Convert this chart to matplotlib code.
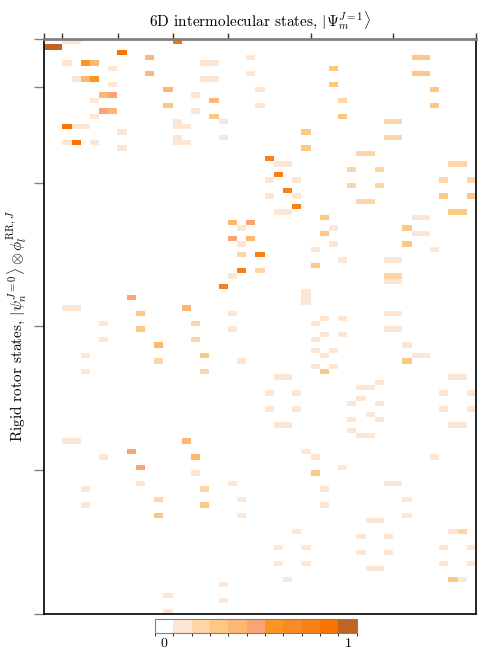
import numpy as np
import matplotlib
matplotlib.use("Agg")
import matplotlib.pyplot as plt
from matplotlib.colors import ListedColormap, BoundaryNorm
from matplotlib.cm import ScalarMappable

plt.rcParams['font.family'] = 'cmr10'
plt.rcParams['mathtext.fontset'] = 'cm'
plt.rcParams['axes.formatter.use_mathtext'] = True

# grid size and block boundaries
n_rows = 108
n_cols = 47
col_breaks = [0, 2, 8, 14, 20, 29, 38, 47]
row_breaks = [0, 9, 27, 54, 81, 108]

# nonzero overlaps, level in tenths (row, column, level)
cell_rows = [0, 0, 0, 1, 1, 2, 3, 3, 3, 3,
             4, 4, 4, 4, 4, 5, 5, 6, 6, 6, 6,
             7, 7, 7, 7, 7, 8, 8, 9, 9, 9,
             10, 10, 10, 11, 11, 11, 12, 12, 12, 13, 13, 13,
             14, 14, 14, 15, 15, 15, 15, 16, 16, 16, 16, 16,
             17, 17, 18, 18, 18, 18, 19, 19, 19, 19, 19, 20, 20,
             21, 21, 22, 23, 23, 23, 23, 24, 24, 25, 26, 26, 26, 26,
             27, 27, 28, 29, 29, 29, 29, 30, 30, 31, 32, 32, 32, 32,
             33, 33, 33, 34, 34, 35, 35, 35, 36, 36, 36, 37, 37,
             38, 38, 38, 39, 39, 40, 40, 41, 41, 41, 42, 43, 43,
             44, 44, 44, 45, 45, 46, 47, 48, 48, 49,
             50, 50, 50, 51, 51, 51, 51, 52, 52, 53, 53, 53,
             54, 54, 54, 54, 55, 55, 56, 56, 56, 57, 57, 58, 58,
             59, 59, 59, 59, 59, 60, 60, 60, 61, 61, 62, 62, 62,
             63, 63, 63, 63, 64, 65, 65, 66, 66, 66, 66, 67, 68, 68,
             69, 69, 69, 69, 70, 71, 71, 72, 72, 72, 72, 73, 74, 74,
             75, 75, 75, 77, 77, 78, 78, 78, 78, 80, 80, 81, 81,
             83, 83, 83, 83, 84, 84, 84, 86, 86, 86, 87, 87, 87,
             89, 89, 89, 90, 90, 92, 92, 92, 93, 93,
             95, 95, 95, 95, 96, 96, 98, 98, 98, 98, 99, 99,
             101, 101, 101, 102, 104, 105, 107]
cell_cols = [2, 3, 14, 0, 1, 8, 11, 22, 40, 41,
             2, 4, 5, 17, 18, 7, 31, 11, 22, 40, 41,
             3, 4, 5, 17, 18, 7, 31, 13, 23, 42,
             6, 7, 16, 5, 18, 32, 13, 23, 42, 6, 7, 16,
             5, 18, 32, 14, 19, 37, 38, 2, 3, 4, 14, 15,
             8, 28, 14, 19, 37, 38, 2, 3, 5, 14, 15, 8, 28,
             34, 35, 24, 25, 26, 44, 45, 33, 36, 25, 24, 27, 43, 46,
             33, 36, 26, 24, 27, 43, 46, 34, 35, 27, 25, 26, 44, 45,
             30, 40, 41, 20, 22, 21, 31, 39, 30, 40, 41, 20, 22,
             21, 31, 39, 29, 42, 21, 23, 32, 37, 38, 29, 21, 23,
             20, 37, 38, 37, 38, 19, 28, 9, 28, 28,
             2, 3, 15, 10, 20, 37, 38, 30, 32, 6, 16, 29,
             10, 20, 37, 38, 30, 32, 6, 16, 29, 12, 39, 29, 31,
             4, 17, 30, 40, 41, 12, 21, 39, 29, 31, 4, 17, 30,
             25, 26, 44, 45, 36, 34, 35, 24, 27, 43, 46, 34, 33, 36,
             24, 27, 43, 46, 35, 33, 36, 25, 26, 44, 45, 33, 34, 35,
             2, 3, 15, 9, 28, 6, 16, 29, 42, 10, 32, 16, 29,
             10, 20, 37, 38, 4, 17, 30, 12, 21, 39, 4, 17, 30,
             12, 21, 39, 35, 36, 27, 44, 45, 34, 37,
             25, 28, 43, 46, 34, 37, 25, 28, 43, 46, 35, 36,
             26, 44, 45, 19, 13, 19, 13]
cell_levels = [1, 1, 9, 10, 10, 9, 4, 1, 3, 3,
               1, 6, 4, 1, 1, 1, 3, 4, 1, 3, 3,
               1, 4, 6, 1, 1, 1, 3, 4, 1, 3,
               4, 5, 1, 1, 4, 2, 3, 1, 3, 5, 4, 1,
               1, 3, 3, 1, 1, 2, 2, 9, 1, 1, 1, 1,
               1, 3, 1, 1, 2, 2, 1, 9, 1, 1, 1, 1, 3,
               2, 2, 8, 1, 1, 2, 2, 2, 2, 8, 1, 1, 2, 2,
               2, 2, 8, 1, 1, 3, 3, 2, 2, 8, 1, 1, 3, 3,
               3, 1, 1, 4, 5, 1, 1, 3, 3, 1, 1, 5, 4,
               1, 1, 3, 1, 1, 2, 8, 1, 1, 1, 3, 8, 2,
               1, 2, 2, 1, 1, 8, 1, 5, 1, 1,
               1, 1, 4, 3, 1, 1, 1, 1, 1, 1, 2, 1,
               3, 1, 1, 1, 1, 1, 1, 2, 1, 4, 1, 1, 1,
               1, 3, 1, 1, 1, 2, 1, 3, 1, 1, 1, 2, 3,
               1, 1, 1, 1, 1, 1, 1, 1, 1, 1, 1, 1, 1, 1,
               1, 1, 1, 1, 1, 1, 1, 1, 1, 1, 1, 1, 1, 1,
               1, 1, 4, 5, 1, 1, 4, 1, 1, 5, 1, 1, 3,
               1, 1, 1, 1, 1, 2, 1, 2, 1, 1, 1, 3, 1,
               3, 1, 1, 1, 1, 1, 1, 2, 1, 1,
               1, 1, 1, 1, 1, 1, 1, 1, 1, 1, 1, 1,
               1, 3, 1, 1, 1, 1, 1]

level_colors = ['#ffffff', '#fee6d5', '#fdd5a6', '#fdc982', '#fcb871', '#fba374',
                '#fa961f', '#fa8a24', '#fa7f16', '#fa7300', '#c06421']

overlap = np.zeros((n_rows, n_cols))
overlap[cell_rows, cell_cols] = np.array(cell_levels) / 10.0

cmap = ListedColormap(level_colors)
norm = BoundaryNorm(np.linspace(-0.05, 1.05, 12), cmap.N)

fig = plt.figure(figsize=(4.91, 6.60), dpi=100)
ax = fig.add_axes([44/491, 1 - 614/660, 432/491, 575/660])
ax.imshow(overlap, cmap=cmap, norm=norm, aspect='auto', interpolation='nearest',
          extent=(0, n_cols, n_rows, 0))
ax.set_xlim(0, n_cols)
ax.set_ylim(n_rows, 0)

ax.xaxis.tick_top()
ax.set_xticks(col_breaks)
ax.set_xticklabels([])
ax.set_yticks(row_breaks)
ax.set_yticklabels([])
ax.tick_params(axis='x', direction='out', length=4, width=1, color='#333333')
ax.tick_params(axis='y', direction='out', length=7, width=1, color='gray')
ax.spines['top'].set_color('gray')
ax.spines['top'].set_linewidth(2)
for s in ['left', 'right', 'bottom']:
    ax.spines[s].set_linewidth(1.2)

ax.set_title(r'6D intermolecular states, $|\Psi_m^{J=1}\rangle$', fontsize=11, pad=9)
ax.set_ylabel(r'Rigid rotor states, $|\psi_n^{J=0}\rangle \otimes \phi_l^{\mathrm{RR},J}$',
              fontsize=11, labelpad=0)

cax = fig.add_axes([155/491, 1 - 632.7/660, 201.7/491, 13.4/660])
cb = fig.colorbar(ScalarMappable(norm=norm, cmap=cmap), cax=cax,
                  orientation='horizontal', ticks=[0, 1])
cb.outline.set_edgecolor('gray')
cax.tick_params(length=0, labelsize=10, pad=3)

fig.savefig('out.png', dpi=100)
